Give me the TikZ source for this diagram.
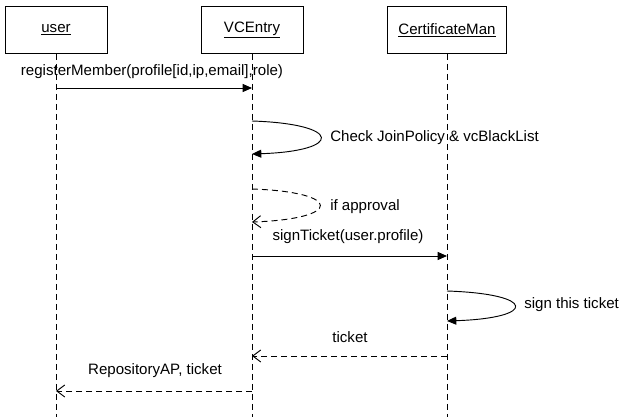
\documentclass[tikz,border=0pt]{standalone}
\usepackage{fontspec}
\setmainfont{Liberation Sans}
\usetikzlibrary{arrows.meta}
\begin{document}
\begin{tikzpicture}[x=0.75pt,y=-0.75pt,
  every node/.style={font=\fontsize{11.3pt}{13pt}\selectfont, inner sep=0pt},
  obj/.style={draw, line width=0.7pt, minimum width=76.5pt, minimum height=35.25pt, anchor=north},
  life/.style={line width=0.7pt, dash pattern=on 4.5pt off 3pt},
  msg/.style={line width=0.7pt, -{Triangle[length=7pt,width=6pt]}},
  ret/.style={line width=0.7pt, dash pattern=on 4.5pt off 3pt, -{Straight Barb[length=6pt,width=9pt]}},
  lbl/.style={anchor=west}]
\useasboundingbox (0,0) rectangle (619,417);
\node[obj] (user) at (56,6) {\underline{user}};
\node[obj] (vce) at (252,6) {\underline{VCEntry}};
\node[obj, minimum width=89.25pt] (cm) at (447,6) {\underline{CertificateMan}};
\coordinate (ue) at (56,417);
\coordinate (ve) at (252,417);
\coordinate (ce) at (447,417);
\draw[life] (user.south) -- (ue);
\draw[life] (vce.south) -- (ve);
\draw[life] (cm.south) -- (ce);
% message 1
\coordinate (m1a) at (56,88);
\coordinate (m1b) at (252,88);
\draw[msg] (m1a) -- (m1b);
\node (l1) at (152,72) {registerMember(profile[id,ip,email],role)};
% self loop check
\coordinate (s1a) at (252,121);
\coordinate (s1b) at (252,154);
\draw[msg] (s1a) .. controls (343,124) and (343,151) .. (s1b);
\node[lbl] (l2) at (330,138) {Check JoinPolicy \& vcBlackList};
% if approval
\coordinate (s2a) at (252,189);
\coordinate (s2b) at (252,222);
\draw[ret] (s2a) .. controls (343,192) and (343,219) .. (s2b);
\node[lbl] (l3) at (330,207) {if approval};
% signTicket
\coordinate (m2a) at (252,256);
\coordinate (m2b) at (447,256);
\draw[msg] (m2a) -- (m2b);
\node (l4) at (348,237) {signTicket(user.profile)};
% sign this ticket
\coordinate (s3a) at (447,291);
\coordinate (s3b) at (447,321);
\draw[msg] (s3a) .. controls (537,294) and (537,318) .. (s3b);
\node[lbl] (l5) at (524,305) {sign this ticket};
% ticket
\coordinate (m3a) at (447,356);
\coordinate (m3b) at (252,356);
\draw[ret] (m3a) -- (m3b);
\node (l6) at (350,337) {ticket};
% RepositoryAP
\coordinate (m4a) at (252,391);
\coordinate (m4b) at (56,391);
\draw[ret] (m4a) -- (m4b);
\node (l7) at (155,371) {RepositoryAP, ticket};
\end{tikzpicture}
\end{document}
